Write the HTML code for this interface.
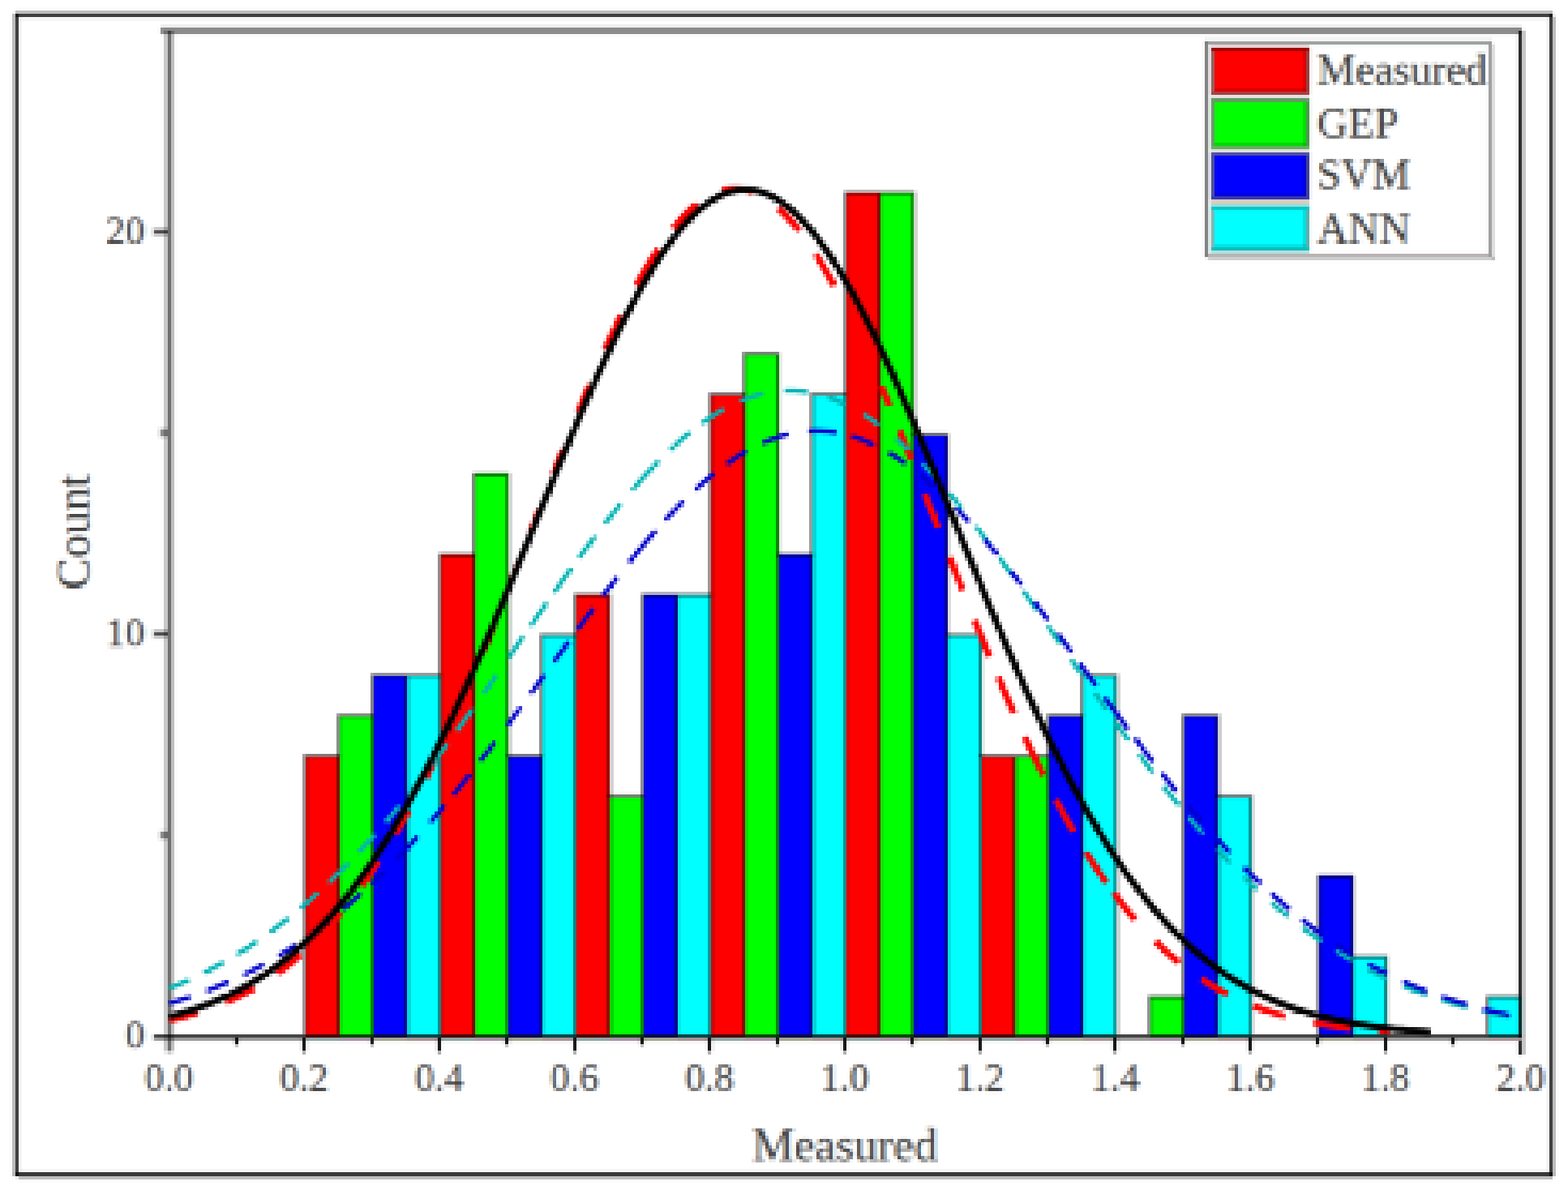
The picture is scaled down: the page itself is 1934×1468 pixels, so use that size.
<!DOCTYPE html>
<html lang="en"><head><meta charset="utf-8"><title>Histogram of Measured, GEP, SVM and ANN</title>
<style>
html,body{margin:0;padding:0;background:#fff;}
body{width:1934px;height:1468px;}
svg{display:block;}
text{font-family:"Liberation Serif","DejaVu Serif",serif;fill:#000000;fill-opacity:0.76;stroke:#000;stroke-width:0.3px;stroke-opacity:0.76;}
.tk{font-size:48.0px;}
.tt{font-size:58.0px;}
.lg{font-size:53.0px;}
</style></head><body>
<svg width="1934" height="1468" viewBox="0 0 1934 1468" role="img" aria-label="Histogram of Measured, GEP, SVM and ANN with fitted normal curves">
<defs><filter id="lowres" x="0" y="0" width="1934" height="1468" filterUnits="userSpaceOnUse" primitiveUnits="userSpaceOnUse" color-interpolation-filters="sRGB">
<feGaussianBlur in="SourceGraphic" stdDeviation="1.0" result="avg"/>
<feFlood x="21" y="17" width="1" height="25" flood-color="#000" flood-opacity="1" result="c0"/>
<feFlood x="25" y="17" width="1" height="25" flood-color="#000" flood-opacity="1" result="c1"/>
<feFlood x="29" y="17" width="1" height="25" flood-color="#000" flood-opacity="1" result="c2"/>
<feFlood x="34" y="17" width="1" height="25" flood-color="#000" flood-opacity="1" result="c3"/>
<feFlood x="38" y="17" width="1" height="25" flood-color="#000" flood-opacity="1" result="c4"/>
<feFlood x="42" y="17" width="1" height="25" flood-color="#000" flood-opacity="1" result="c5"/>
<feMerge x="19" y="17" width="25" height="25" result="ct"><feMergeNode in="c0"/><feMergeNode in="c1"/><feMergeNode in="c2"/><feMergeNode in="c3"/><feMergeNode in="c4"/><feMergeNode in="c5"/></feMerge>
<feTile in="ct" result="cols"/>
<feMerge x="19" y="17" width="25" height="25" result="c5t"><feMergeNode in="c2"/></feMerge>
<feTile in="c5t" result="cols5"/>
<feFlood x="19" y="19" width="25" height="1" flood-color="#000" flood-opacity="1" result="r0"/>
<feFlood x="19" y="23" width="25" height="1" flood-color="#000" flood-opacity="1" result="r1"/>
<feFlood x="19" y="28" width="25" height="1" flood-color="#000" flood-opacity="1" result="r2"/>
<feFlood x="19" y="32" width="25" height="1" flood-color="#000" flood-opacity="1" result="r3"/>
<feFlood x="19" y="36" width="25" height="1" flood-color="#000" flood-opacity="1" result="r4"/>
<feFlood x="19" y="40" width="25" height="1" flood-color="#000" flood-opacity="1" result="r5"/>
<feMerge x="19" y="17" width="25" height="25" result="rt"><feMergeNode in="r0"/><feMergeNode in="r1"/><feMergeNode in="r2"/><feMergeNode in="r3"/><feMergeNode in="r4"/><feMergeNode in="r5"/></feMerge>
<feTile in="rt" result="rows"/>
<feMerge x="19" y="17" width="25" height="25" result="r5t"><feMergeNode in="r1"/></feMerge>
<feTile in="r5t" result="rows5"/>
<feComposite in="cols" in2="rows" operator="in" result="dots"/>
<feComposite in="avg" in2="dots" operator="in" result="s"/>
<feComposite in="s" in2="cols5" operator="in" result="s5"/>
<feOffset in="s" dx="-2" dy="0" result="ha"/>
<feOffset in="s" dx="-1" dy="0" result="hb"/>
<feOffset in="s" dx="1" dy="0" result="hc"/>
<feOffset in="s5" dx="2" dy="0" result="hd"/>
<feMerge result="h"><feMergeNode in="ha"/><feMergeNode in="hb"/><feMergeNode in="s"/><feMergeNode in="hc"/><feMergeNode in="hd"/></feMerge>
<feComposite in="h" in2="rows5" operator="in" result="h5"/>
<feOffset in="h" dx="0" dy="-2" result="va"/>
<feOffset in="h" dx="0" dy="-1" result="vb"/>
<feOffset in="h" dx="0" dy="1" result="vc"/>
<feOffset in="h5" dx="0" dy="2" result="vd"/>
<feMerge result="blocks"><feMergeNode in="va"/><feMergeNode in="vb"/><feMergeNode in="h"/><feMergeNode in="vc"/><feMergeNode in="vd"/></feMerge>
<feMerge><feMergeNode in="avg"/><feMergeNode in="blocks"/></feMerge>
</filter>
<filter id="ctx" x="170" y="1303" width="1734" height="56" filterUnits="userSpaceOnUse" primitiveUnits="userSpaceOnUse" color-interpolation-filters="sRGB"><feFlood flood-color="#ffffff" flood-opacity="1" result="w"/><feGaussianBlur in="SourceGraphic" stdDeviation="0.9 0.3" result="sg"/><feMerge result="src"><feMergeNode in="w"/><feMergeNode in="sg"/></feMerge><feOffset in="sg" dx="1.4" dy="0" result="sr"/><feOffset in="sg" dx="-1.4" dy="0" result="sb"/><feMerge result="or"><feMergeNode in="w"/><feMergeNode in="sr"/></feMerge><feMerge result="ob"><feMergeNode in="w"/><feMergeNode in="sb"/></feMerge><feColorMatrix in="or" type="matrix" values="1 0 0 0 0  0 0 0 0 0  0 0 0 0 0  0 0 0 1 0" result="r"/><feColorMatrix in="src" type="matrix" values="0 0 0 0 0  0 1 0 0 0  0 0 0 0 0  0 0 0 1 0" result="g"/><feColorMatrix in="ob" type="matrix" values="0 0 0 0 0  0 0 0 0 0  0 0 1 0 0  0 0 0 1 0" result="b"/><feBlend in="r" in2="g" mode="screen" result="rg"/><feBlend in="rg" in2="b" mode="screen" result="fr"/><feComposite in="fr" in2="src" operator="arithmetic" k1="0" k2="0.6" k3="0.4" k4="0"/></filter>
<filter id="cty" x="124" y="255" width="60" height="1044" filterUnits="userSpaceOnUse" primitiveUnits="userSpaceOnUse" color-interpolation-filters="sRGB"><feFlood flood-color="#ffffff" flood-opacity="1" result="w"/><feGaussianBlur in="SourceGraphic" stdDeviation="0.9 0.3" result="sg"/><feMerge result="src"><feMergeNode in="w"/><feMergeNode in="sg"/></feMerge><feOffset in="sg" dx="1.4" dy="0" result="sr"/><feOffset in="sg" dx="-1.4" dy="0" result="sb"/><feMerge result="or"><feMergeNode in="w"/><feMergeNode in="sr"/></feMerge><feMerge result="ob"><feMergeNode in="w"/><feMergeNode in="sb"/></feMerge><feColorMatrix in="or" type="matrix" values="1 0 0 0 0  0 0 0 0 0  0 0 0 0 0  0 0 0 1 0" result="r"/><feColorMatrix in="src" type="matrix" values="0 0 0 0 0  0 1 0 0 0  0 0 0 0 0  0 0 0 1 0" result="g"/><feColorMatrix in="ob" type="matrix" values="0 0 0 0 0  0 0 0 0 0  0 0 1 0 0  0 0 0 1 0" result="b"/><feBlend in="r" in2="g" mode="screen" result="rg"/><feBlend in="rg" in2="b" mode="screen" result="fr"/><feComposite in="fr" in2="src" operator="arithmetic" k1="0" k2="0.6" k3="0.4" k4="0"/></filter>
<filter id="ctm" x="915" y="1378" width="256" height="64" filterUnits="userSpaceOnUse" primitiveUnits="userSpaceOnUse" color-interpolation-filters="sRGB"><feFlood flood-color="#ffffff" flood-opacity="1" result="w"/><feGaussianBlur in="SourceGraphic" stdDeviation="0.9 0.3" result="sg"/><feMerge result="src"><feMergeNode in="w"/><feMergeNode in="sg"/></feMerge><feOffset in="sg" dx="1.4" dy="0" result="sr"/><feOffset in="sg" dx="-1.4" dy="0" result="sb"/><feMerge result="or"><feMergeNode in="w"/><feMergeNode in="sr"/></feMerge><feMerge result="ob"><feMergeNode in="w"/><feMergeNode in="sb"/></feMerge><feColorMatrix in="or" type="matrix" values="1 0 0 0 0  0 0 0 0 0  0 0 0 0 0  0 0 0 1 0" result="r"/><feColorMatrix in="src" type="matrix" values="0 0 0 0 0  0 1 0 0 0  0 0 0 0 0  0 0 0 1 0" result="g"/><feColorMatrix in="ob" type="matrix" values="0 0 0 0 0  0 0 0 0 0  0 0 1 0 0  0 0 0 1 0" result="b"/><feBlend in="r" in2="g" mode="screen" result="rg"/><feBlend in="rg" in2="b" mode="screen" result="fr"/><feComposite in="fr" in2="src" operator="arithmetic" k1="0" k2="0.6" k3="0.4" k4="0"/></filter>
<filter id="ctc" x="58" y="570" width="64" height="172" filterUnits="userSpaceOnUse" primitiveUnits="userSpaceOnUse" color-interpolation-filters="sRGB"><feFlood flood-color="#ffffff" flood-opacity="1" result="w"/><feGaussianBlur in="SourceGraphic" stdDeviation="0.9 0.3" result="sg"/><feMerge result="src"><feMergeNode in="w"/><feMergeNode in="sg"/></feMerge><feOffset in="sg" dx="1.4" dy="0" result="sr"/><feOffset in="sg" dx="-1.4" dy="0" result="sb"/><feMerge result="or"><feMergeNode in="w"/><feMergeNode in="sr"/></feMerge><feMerge result="ob"><feMergeNode in="w"/><feMergeNode in="sb"/></feMerge><feColorMatrix in="or" type="matrix" values="1 0 0 0 0  0 0 0 0 0  0 0 0 0 0  0 0 0 1 0" result="r"/><feColorMatrix in="src" type="matrix" values="0 0 0 0 0  0 1 0 0 0  0 0 0 0 0  0 0 0 1 0" result="g"/><feColorMatrix in="ob" type="matrix" values="0 0 0 0 0  0 0 0 0 0  0 0 1 0 0  0 0 0 1 0" result="b"/><feBlend in="r" in2="g" mode="screen" result="rg"/><feBlend in="rg" in2="b" mode="screen" result="fr"/><feComposite in="fr" in2="src" operator="arithmetic" k1="0" k2="0.6" k3="0.4" k4="0"/></filter>
<filter id="ctl" x="1618" y="59" width="216" height="252" filterUnits="userSpaceOnUse" primitiveUnits="userSpaceOnUse" color-interpolation-filters="sRGB"><feFlood flood-color="#ffffff" flood-opacity="1" result="w"/><feGaussianBlur in="SourceGraphic" stdDeviation="0.9 0.3" result="sg"/><feMerge result="src"><feMergeNode in="w"/><feMergeNode in="sg"/></feMerge><feOffset in="sg" dx="1.4" dy="0" result="sr"/><feOffset in="sg" dx="-1.4" dy="0" result="sb"/><feMerge result="or"><feMergeNode in="w"/><feMergeNode in="sr"/></feMerge><feMerge result="ob"><feMergeNode in="w"/><feMergeNode in="sb"/></feMerge><feColorMatrix in="or" type="matrix" values="1 0 0 0 0  0 0 0 0 0  0 0 0 0 0  0 0 0 1 0" result="r"/><feColorMatrix in="src" type="matrix" values="0 0 0 0 0  0 1 0 0 0  0 0 0 0 0  0 0 0 1 0" result="g"/><feColorMatrix in="ob" type="matrix" values="0 0 0 0 0  0 0 0 0 0  0 0 1 0 0  0 0 0 1 0" result="b"/><feBlend in="r" in2="g" mode="screen" result="rg"/><feBlend in="rg" in2="b" mode="screen" result="fr"/><feComposite in="fr" in2="src" operator="arithmetic" k1="0" k2="0.6" k3="0.4" k4="0"/></filter></defs>
<g filter="url(#lowres)">
<g transform="translate(0.5 0.5)">
<rect x="-2" y="-2" width="1938" height="1472" fill="#ffffff"/>
<g id="outer-border">
<rect x="19" y="13" width="1896" height="4" fill="#000" fill-opacity="0.25"/>
<rect x="15" y="17" width="4" height="1434" fill="#000" fill-opacity="0.25"/>
<rect x="1915" y="21" width="4" height="1430" fill="#000" fill-opacity="0.25"/>
<rect x="23" y="1451" width="1892" height="4" fill="#000" fill-opacity="0.25"/>
<rect x="19" y="17" width="1896" height="4" fill="#000" fill-opacity="0.81"/>
<rect x="19" y="1446" width="1896" height="5" fill="#000" fill-opacity="0.81"/>
<rect x="19" y="17" width="4" height="1434" fill="#000" fill-opacity="0.81"/>
<rect x="1911" y="17" width="4" height="1434" fill="#000" fill-opacity="0.81"/>
</g>
<g id="bars">
<rect x="377" y="933.4" width="42" height="346.6" fill="#ff0000"/>
<rect x="419" y="883.4" width="42" height="396.6" fill="#00ff00"/>
<rect x="461" y="833.4" width="41" height="446.6" fill="#0000ff"/>
<rect x="502" y="833.4" width="42" height="446.6" fill="#00ffff"/>
<rect x="544" y="683.4" width="42" height="596.6" fill="#ff0000"/>
<rect x="586" y="583.4" width="41" height="696.6" fill="#00ff00"/>
<rect x="627" y="933.4" width="42" height="346.6" fill="#0000ff"/>
<rect x="669" y="783.4" width="42" height="496.6" fill="#00ffff"/>
<rect x="711" y="733.4" width="41" height="546.6" fill="#ff0000"/>
<rect x="752" y="983.4" width="42" height="296.6" fill="#00ff00"/>
<rect x="794" y="733.4" width="42" height="546.6" fill="#0000ff"/>
<rect x="836" y="733.4" width="41" height="546.6" fill="#00ffff"/>
<rect x="877" y="487.4" width="42" height="792.6" fill="#ff0000"/>
<rect x="919" y="437.4" width="42" height="842.6" fill="#00ff00"/>
<rect x="961" y="683.4" width="41" height="596.6" fill="#0000ff"/>
<rect x="1002" y="487.4" width="42" height="792.6" fill="#00ffff"/>
<rect x="1044" y="237.4" width="42" height="1042.6" fill="#ff0000"/>
<rect x="1086" y="237.4" width="41" height="1042.6" fill="#00ff00"/>
<rect x="1127" y="537.4" width="42" height="742.6" fill="#0000ff"/>
<rect x="1169" y="783.4" width="42" height="496.6" fill="#00ffff"/>
<rect x="1211" y="933.4" width="41" height="346.6" fill="#ff0000"/>
<rect x="1252" y="933.4" width="42" height="346.6" fill="#00ff00"/>
<rect x="1294" y="883.4" width="42" height="396.6" fill="#0000ff"/>
<rect x="1336" y="833.4" width="41" height="446.6" fill="#00ffff"/>
<rect x="1419" y="1229.4" width="42" height="50.6" fill="#00ff00"/>
<rect x="1461" y="883.4" width="41" height="396.6" fill="#0000ff"/>
<rect x="1502" y="983.4" width="42" height="296.6" fill="#00ffff"/>
<rect x="1627" y="1079.4" width="42" height="200.6" fill="#0000ff"/>
<rect x="1669" y="1179.4" width="42" height="100.6" fill="#00ffff"/>
<rect x="1836" y="1229.4" width="41" height="50.6" fill="#00ffff"/>
</g>
<g id="bar-outlines" fill="#000" fill-opacity="0.52">
<rect x="374.12" y="930.42" width="4.17" height="345.58"/>
<rect x="415.79" y="880.82" width="4.17" height="395.18"/>
<rect x="457.47" y="831.22" width="4.17" height="444.78"/>
<rect x="499.14" y="831.22" width="4.17" height="444.78"/>
<rect x="540.82" y="682.42" width="4.17" height="593.58"/>
<rect x="582.49" y="583.22" width="4.17" height="692.78"/>
<rect x="624.17" y="583.22" width="4.17" height="692.78"/>
<rect x="665.84" y="781.62" width="4.17" height="494.38"/>
<rect x="707.52" y="732.02" width="4.17" height="543.98"/>
<rect x="749.19" y="732.02" width="4.17" height="543.98"/>
<rect x="790.87" y="732.02" width="4.17" height="543.98"/>
<rect x="832.54" y="732.02" width="4.17" height="543.98"/>
<rect x="874.22" y="484.02" width="4.17" height="791.98"/>
<rect x="915.89" y="434.42" width="4.17" height="841.58"/>
<rect x="957.57" y="434.42" width="4.17" height="841.58"/>
<rect x="999.24" y="484.02" width="4.17" height="791.98"/>
<rect x="1040.92" y="236.02" width="4.17" height="1039.98"/>
<rect x="1082.59" y="236.02" width="4.17" height="1039.98"/>
<rect x="1124.27" y="236.02" width="4.17" height="1039.98"/>
<rect x="1165.94" y="533.62" width="4.17" height="742.38"/>
<rect x="1207.62" y="781.62" width="4.17" height="494.38"/>
<rect x="1249.29" y="930.42" width="4.17" height="345.58"/>
<rect x="1290.97" y="880.82" width="4.17" height="395.18"/>
<rect x="1332.64" y="831.22" width="4.17" height="444.78"/>
<rect x="1374.32" y="831.22" width="4.17" height="444.78"/>
<rect x="1415.99" y="1228.02" width="4.17" height="47.98"/>
<rect x="1457.67" y="880.82" width="4.17" height="395.18"/>
<rect x="1499.34" y="880.82" width="4.17" height="395.18"/>
<rect x="1541.02" y="980.02" width="4.17" height="295.98"/>
<rect x="1624.37" y="1079.22" width="4.17" height="196.78"/>
<rect x="1666.04" y="1079.22" width="4.17" height="196.78"/>
<rect x="1707.72" y="1178.42" width="4.17" height="97.58"/>
<rect x="1832.74" y="1228.02" width="4.17" height="47.98"/>
<rect x="378.28" y="930.42" width="41.68" height="4.17"/>
<rect x="419.96" y="880.82" width="41.68" height="4.17"/>
<rect x="461.63" y="831.22" width="37.51" height="4.17"/>
<rect x="503.31" y="831.22" width="41.68" height="4.17"/>
<rect x="544.98" y="682.42" width="41.67" height="4.17"/>
<rect x="586.66" y="583.22" width="37.51" height="4.17"/>
<rect x="624.17" y="930.42" width="45.84" height="4.17"/>
<rect x="670.01" y="781.62" width="41.68" height="4.17"/>
<rect x="711.68" y="732.02" width="37.51" height="4.17"/>
<rect x="749.19" y="980.02" width="45.84" height="4.17"/>
<rect x="795.03" y="732.02" width="37.51" height="4.17"/>
<rect x="836.71" y="732.02" width="41.68" height="4.17"/>
<rect x="878.38" y="484.02" width="41.67" height="4.17"/>
<rect x="920.06" y="434.42" width="37.51" height="4.17"/>
<rect x="957.57" y="682.42" width="45.84" height="4.17"/>
<rect x="1003.41" y="484.02" width="41.67" height="4.17"/>
<rect x="1045.08" y="236.02" width="37.51" height="4.17"/>
<rect x="1086.76" y="236.02" width="37.51" height="4.17"/>
<rect x="1124.27" y="533.62" width="41.67" height="4.17"/>
<rect x="1165.94" y="781.62" width="41.68" height="4.17"/>
<rect x="1207.62" y="930.42" width="41.67" height="4.17"/>
<rect x="1253.46" y="930.42" width="41.67" height="4.17"/>
<rect x="1295.13" y="880.82" width="41.68" height="4.17"/>
<rect x="1336.81" y="831.22" width="37.51" height="4.17"/>
<rect x="1420.16" y="1228.02" width="41.67" height="4.17"/>
<rect x="1461.83" y="880.82" width="37.51" height="4.17"/>
<rect x="1499.34" y="980.02" width="41.68" height="4.17"/>
<rect x="1628.53" y="1079.22" width="37.51" height="4.17"/>
<rect x="1666.04" y="1178.42" width="41.67" height="4.17"/>
<rect x="1836.91" y="1228.02" width="37.51" height="4.17"/>
</g>
<g id="frame">
<rect x="198" y="30" width="1679" height="4" fill="#000" fill-opacity="0.05"/>
<rect x="198" y="34" width="1679" height="8" fill="#000" fill-opacity="0.47"/>
<rect x="202" y="38" width="5" height="1259.5" fill="#000" fill-opacity="0.22"/>
<rect x="207" y="38" width="4" height="1259.5" fill="#000" fill-opacity="0.6"/>
<rect x="211" y="38" width="4" height="1259.5" fill="#000" fill-opacity="0.25"/>
<rect x="1873" y="38" width="4" height="1263" fill="#000" fill-opacity="0.89"/>
<rect x="1877" y="38" width="5" height="1263" fill="#000" fill-opacity="0.2"/>
<rect x="190" y="1276" width="1687" height="4" fill="#000" fill-opacity="0.78"/>
<rect x="190" y="1280" width="1687" height="4" fill="#000" fill-opacity="0.4"/>
<rect x="186" y="1276" width="4" height="8" fill="#000" fill-opacity="0.08"/>
<rect x="377" y="1280" width="42" height="4" fill="#92a9a9"/>
<rect x="419" y="1280" width="42" height="4" fill="#a992a9"/>
<rect x="461" y="1280" width="41" height="4" fill="#a9a992"/>
<rect x="502" y="1280" width="42" height="4" fill="#a99494"/>
<rect x="544" y="1280" width="42" height="4" fill="#92a9a9"/>
<rect x="586" y="1280" width="41" height="4" fill="#a992a9"/>
<rect x="627" y="1280" width="42" height="4" fill="#a9a992"/>
<rect x="669" y="1280" width="42" height="4" fill="#a99494"/>
<rect x="711" y="1280" width="41" height="4" fill="#92a9a9"/>
<rect x="752" y="1280" width="42" height="4" fill="#a992a9"/>
<rect x="794" y="1280" width="42" height="4" fill="#a9a992"/>
<rect x="836" y="1280" width="41" height="4" fill="#a99494"/>
<rect x="877" y="1280" width="42" height="4" fill="#92a9a9"/>
<rect x="919" y="1280" width="42" height="4" fill="#a992a9"/>
<rect x="961" y="1280" width="41" height="4" fill="#a9a992"/>
<rect x="1002" y="1280" width="42" height="4" fill="#a99494"/>
<rect x="1044" y="1280" width="42" height="4" fill="#92a9a9"/>
<rect x="1086" y="1280" width="41" height="4" fill="#a992a9"/>
<rect x="1127" y="1280" width="42" height="4" fill="#a9a992"/>
<rect x="1169" y="1280" width="42" height="4" fill="#a99494"/>
<rect x="1211" y="1280" width="41" height="4" fill="#92a9a9"/>
<rect x="1252" y="1280" width="42" height="4" fill="#a992a9"/>
<rect x="1294" y="1280" width="42" height="4" fill="#a9a992"/>
<rect x="1336" y="1280" width="41" height="4" fill="#a99494"/>
<rect x="1419" y="1280" width="42" height="4" fill="#a992a9"/>
<rect x="1461" y="1280" width="41" height="4" fill="#a9a992"/>
<rect x="1502" y="1280" width="42" height="4" fill="#a99494"/>
<rect x="1627" y="1280" width="42" height="4" fill="#a9a992"/>
<rect x="1669" y="1280" width="42" height="4" fill="#a99494"/>
<rect x="1836" y="1280" width="41" height="4" fill="#a99494"/>
</g>
<g id="ticks" fill="#000">
<rect x="289.57" y="1280" width="4.17" height="9.2" fill-opacity="0.97"/>
<rect x="372.92" y="1280" width="4.17" height="17.5" fill-opacity="0.97"/>
<rect x="456.27" y="1280" width="4.17" height="9.2" fill-opacity="0.97"/>
<rect x="539.62" y="1280" width="4.17" height="17.5" fill-opacity="0.97"/>
<rect x="622.97" y="1280" width="4.17" height="9.2" fill-opacity="0.97"/>
<rect x="706.32" y="1280" width="4.17" height="17.5" fill-opacity="0.97"/>
<rect x="789.67" y="1280" width="4.17" height="9.2" fill-opacity="0.97"/>
<rect x="873.02" y="1280" width="4.17" height="17.5" fill-opacity="0.97"/>
<rect x="956.37" y="1280" width="4.17" height="9.2" fill-opacity="0.97"/>
<rect x="1039.72" y="1280" width="4.17" height="17.5" fill-opacity="0.97"/>
<rect x="1123.07" y="1280" width="4.17" height="9.2" fill-opacity="0.97"/>
<rect x="1206.42" y="1280" width="4.17" height="17.5" fill-opacity="0.97"/>
<rect x="1289.77" y="1280" width="4.17" height="9.2" fill-opacity="0.97"/>
<rect x="1373.12" y="1280" width="4.17" height="17.5" fill-opacity="0.97"/>
<rect x="1456.47" y="1280" width="4.17" height="9.2" fill-opacity="0.97"/>
<rect x="1539.82" y="1280" width="4.17" height="17.5" fill-opacity="0.97"/>
<rect x="1623.17" y="1280" width="4.17" height="9.2" fill-opacity="0.97"/>
<rect x="1706.52" y="1280" width="4.17" height="17.5" fill-opacity="0.97"/>
<rect x="1789.87" y="1280" width="4.17" height="9.2" fill-opacity="0.97"/>
<rect x="198" y="1028" width="9" height="4" fill-opacity="0.66"/>
<rect x="198" y="1024" width="9" height="12" fill-opacity="0.2"/>
<rect x="194" y="1024" width="4" height="12" fill-opacity="0.08"/>
<rect x="190" y="780" width="17" height="4" fill-opacity="0.66"/>
<rect x="190" y="776" width="17" height="12" fill-opacity="0.2"/>
<rect x="186" y="776" width="4" height="12" fill-opacity="0.08"/>
<rect x="198" y="532" width="9" height="4" fill-opacity="0.66"/>
<rect x="198" y="528" width="9" height="12" fill-opacity="0.2"/>
<rect x="194" y="528" width="4" height="12" fill-opacity="0.08"/>
<rect x="190" y="284" width="17" height="4" fill-opacity="0.66"/>
<rect x="190" y="280" width="17" height="12" fill-opacity="0.2"/>
<rect x="186" y="280" width="4" height="12" fill-opacity="0.08"/>
</g>
<g id="curves" fill="none" stroke-linecap="butt" stroke-linejoin="round">
<path d="M208.8,1258.4 L211.7,1257.7 L214.6,1257.0 L217.6,1256.3 L220.5,1255.6 L223.4,1254.9 L226.3,1254.1 L229.2,1253.3 L232.1,1252.5 L235.0,1251.7 L238.0,1250.8 L240.9,1250.0 L243.8,1249.1 M278.5,1236.3 L281.5,1235.0 L284.4,1233.7 L287.3,1232.4 L290.2,1231.0 L293.1,1229.6 L296.1,1228.2 L299.0,1226.7 L301.9,1225.2 L304.8,1223.6 L307.8,1222.1 L310.7,1220.5 L313.6,1218.8 M342.0,1200.6 L344.9,1198.5 L347.8,1196.3 L350.7,1194.1 L353.6,1191.9 L356.5,1189.6 L359.5,1187.3 L362.4,1184.9 L365.3,1182.5 L368.2,1180.0 L371.1,1177.5 M400.2,1149.2 L403.1,1146.1 L406.0,1142.9 L408.9,1139.7 L411.8,1136.4 L414.7,1133.1 L417.6,1129.7 L420.4,1126.3 M445.9,1093.2 L448.9,1089.0 L451.9,1084.8 L454.9,1080.5 L457.9,1076.1 L460.9,1071.6 L463.9,1067.1 L466.9,1062.5 M487.5,1029.0 L490.2,1024.3 L493.0,1019.5 L495.7,1014.7 L498.5,1009.8 L501.2,1004.9 L504.0,999.9 M524.8,960.1 L527.6,954.7 L530.3,949.2 L533.0,943.7 L535.8,938.1 L538.5,932.4 L541.2,926.7 M560.2,885.8 L562.9,879.8 L565.6,873.6 L568.4,867.5 L571.1,861.3 L573.8,855.1 M595.2,804.6 L598.1,797.8 L600.9,790.8 L603.8,783.9 L606.6,776.9 L609.5,769.9 M630.4,717.5 L632.7,711.8 L634.9,706.1 L637.2,700.4 L639.5,694.6 M654.2,656.9 L657.0,649.8 L659.8,642.8 L662.5,635.7 L665.3,628.7 M682.2,585.4 L684.6,579.3 L687.0,573.2 L689.5,567.1 L691.9,561.1 L694.3,555.0 M713.2,508.2 L716.1,501.3 L718.9,494.5 L721.7,487.7 L724.6,480.9 L727.4,474.2 M746.2,431.2 L749.0,425.0 L751.8,418.9 L754.6,412.8 L757.4,406.8 L760.2,400.9 L763.0,395.0 L765.8,389.3 M784.8,352.4 L787.8,346.9 L790.8,341.5 L793.8,336.3 L796.8,331.1 L799.8,326.1 L802.8,321.1 L805.8,316.3 L808.8,311.6 L811.8,307.1 M830.1,281.9 L833.1,278.2 L836.0,274.7 L839.0,271.4 L842.0,268.1 L845.0,265.0 L847.9,262.0 L850.9,259.2 L853.9,256.5 L856.9,253.9 L859.8,251.5 M890.9,235.1 L893.9,234.3 L896.8,233.8 L899.8,233.3 L902.7,233.1 L905.6,232.9 L908.6,233.0 L911.5,233.1 L914.4,233.4 L917.4,233.9 L920.3,234.5 L923.2,235.2 L926.2,236.1 L929.1,237.2 M960.1,256.9 L962.9,259.5 L965.7,262.2 L968.6,265.0 L971.4,268.0 L974.2,271.0 L977.1,274.2 L979.9,277.6 L982.8,281.0 L985.6,284.6 M1006.0,313.6 L1008.9,318.1 L1011.7,322.7 L1014.6,327.4 L1017.4,332.2 L1020.2,337.1 L1023.1,342.2 L1025.9,347.3 L1028.8,352.5 M1048.2,390.2 L1050.8,395.6 L1053.4,401.0 L1056.0,406.5 L1058.6,412.1 L1061.2,417.7 L1063.8,423.4 M1087.0,476.3 L1089.5,482.2 L1092.0,488.2 L1094.6,494.2 L1097.1,500.3 M1109.7,531.2 L1112.6,538.2 L1115.4,545.3 L1118.2,552.3 L1121.0,559.4 L1123.9,566.6 M1140.7,609.4 L1143.4,616.3 L1146.1,623.2 L1148.8,630.1 L1151.6,637.0 L1154.3,644.0 L1157.0,650.9 M1171.2,687.4 L1173.9,694.2 L1176.6,701.1 L1179.3,707.9 L1182.0,714.7 L1184.7,721.5 L1187.4,728.3 M1202.2,765.3 L1204.8,771.8 L1207.4,778.2 L1210.1,784.6 L1212.7,790.9 L1215.3,797.3 L1217.9,803.6 L1220.5,809.8 M1231.2,835.2 L1234.0,841.7 L1236.7,848.1 L1239.5,854.5 L1242.2,860.8 L1245.0,867.0 L1247.8,873.3 L1250.5,879.5 M1264.2,909.4 L1267.0,915.5 L1269.8,921.5 L1272.7,927.5 L1275.5,933.4 L1278.4,939.2 L1281.2,945.0 L1284.0,950.8 L1286.9,956.5 M1302.4,986.6 L1305.1,991.7 L1307.8,996.7 L1310.6,1001.7 L1313.3,1006.6 L1316.0,1011.5 L1318.7,1016.3 L1321.4,1021.0 L1324.1,1025.7 M1339.6,1051.4 L1342.4,1055.8 L1345.2,1060.2 L1347.9,1064.5 L1350.7,1068.7 L1353.5,1072.9 L1356.2,1077.0 L1359.0,1081.0 L1361.8,1085.0 L1364.5,1088.9 M1373.6,1101.5 L1376.6,1105.4 L1379.5,1109.2 L1382.4,1113.0 L1385.3,1116.7 L1388.2,1120.3 L1391.1,1123.9 L1394.1,1127.4 L1397.0,1130.9 L1399.9,1134.3 M1425.1,1161.3 L1428.0,1164.1 L1430.9,1166.9 L1433.8,1169.6 L1436.7,1172.3 L1439.5,1174.9 L1442.4,1177.4 L1445.3,1180.0 L1448.2,1182.4 L1451.1,1184.8 L1454.0,1187.2 M1481.6,1207.5 L1484.6,1209.4 L1487.6,1211.3 L1490.5,1213.2 L1493.5,1215.0 L1496.5,1216.8 L1499.5,1218.5 L1502.4,1220.2 L1505.4,1221.9 L1508.4,1223.5 L1511.3,1225.0 L1514.3,1226.6 M1546.3,1240.8 L1549.3,1242.0 L1552.2,1243.1 L1555.2,1244.2 L1558.2,1245.2 L1561.2,1246.3 L1564.2,1247.3 L1567.2,1248.2 L1570.2,1249.2 L1573.1,1250.1 L1576.1,1251.0 L1579.1,1251.9 L1582.1,1252.7 L1585.1,1253.5 M1620.3,1261.6 L1623.1,1262.1 L1626.0,1262.6 L1628.9,1263.2 L1631.7,1263.6 L1634.6,1264.1 L1637.5,1264.6 L1640.3,1265.0 L1643.2,1265.5 L1646.1,1265.9 L1648.9,1266.3 L1651.8,1266.7 L1654.7,1267.1 L1657.5,1267.5 L1660.4,1267.8 L1663.3,1268.2 L1666.1,1268.5 M1700.2,1271.9 L1702.9,1272.1 L1705.6,1272.3 L1708.4,1272.5 L1711.1,1272.7 L1713.8,1272.9" stroke="#ff0000" stroke-width="8.0"/>
<path d="M208.9,1219.1 L211.6,1218.0 L214.4,1216.8 L217.1,1215.7 L219.8,1214.6 L222.5,1213.4 L225.2,1212.2 L228.0,1211.0 L230.7,1209.8 L233.4,1208.5 M251.4,1199.9 L254.1,1198.5 L256.8,1197.2 L259.5,1195.8 L262.2,1194.3 L264.9,1192.9 L267.6,1191.4 L270.3,1190.0 L273.0,1188.5 L275.7,1187.0 M291.9,1177.4 L294.6,1175.7 L297.4,1174.0 L300.2,1172.2 L303.0,1170.5 L305.8,1168.7 L308.6,1166.8 L311.4,1165.0 L314.2,1163.1 L317.0,1161.2 M333.4,1149.6 L336.1,1147.6 L338.8,1145.6 L341.5,1143.5 L344.3,1141.5 L347.0,1139.4 L349.7,1137.2 L352.4,1135.1 L355.2,1132.9 M370.7,1120.2 L373.4,1117.9 L376.1,1115.5 L378.8,1113.2 L381.5,1110.8 L384.2,1108.4 L386.9,1106.0 L389.6,1103.6 L392.3,1101.1 M404.8,1089.4 L407.6,1086.8 L410.3,1084.1 L413.0,1081.4 L415.8,1078.8 L418.5,1076.0 L421.2,1073.3 L424.0,1070.5 L426.7,1067.8 L429.4,1064.9 M442.2,1051.5 L445.1,1048.4 L448.0,1045.2 L450.9,1042.1 L453.8,1038.9 L456.7,1035.7 L459.6,1032.4 L462.5,1029.2 M475.3,1014.4 L478.1,1011.1 L481.0,1007.7 L483.8,1004.3 L486.7,1000.9 L489.6,997.4 L492.4,993.9 M504.3,979.3 L507.0,975.9 L509.8,972.4 L512.5,969.0 L515.2,965.5 L518.0,962.0 L520.7,958.5 M532.3,943.4 L535.0,939.8 L537.8,936.2 L540.5,932.6 L543.2,928.9 L545.9,925.3 L548.6,921.6 L551.4,917.9 M563.3,901.6 L566.2,897.7 L569.1,893.7 L572.0,889.7 L574.8,885.7 L577.7,881.7 L580.6,877.7 L583.5,873.6 M596.4,855.3 L599.1,851.5 L601.7,847.7 L604.4,844.0 L607.0,840.2 L609.7,836.4 L612.3,832.6 M627.5,810.9 L630.5,806.6 L633.5,802.3 L636.4,797.9 L639.4,793.6 L642.4,789.3 L645.4,785.0 M654.4,772.2 L657.2,768.0 L660.1,763.9 L663.0,759.8 L665.8,755.7 L668.7,751.6 L671.6,747.5 L674.5,743.4 M683.3,730.8 L686.0,727.0 L688.6,723.3 L691.3,719.6 L693.9,715.9 L696.5,712.2 L699.2,708.5 L701.8,704.9 L704.5,701.2 M714.3,687.7 L717.2,683.8 L720.0,680.0 L722.8,676.2 L725.7,672.4 L728.5,668.6 L731.4,664.8 L734.2,661.1 M746.1,645.6 L748.8,642.1 L751.6,638.7 L754.3,635.2 L757.0,631.8 L759.8,628.4 L762.5,625.0 L765.2,621.7 M779.5,604.8 L782.2,601.6 L785.0,598.4 L787.7,595.3 L790.5,592.2 L793.3,589.1 L796.0,586.0 L798.8,583.0 L801.6,580.1 L804.3,577.1 L807.1,574.2 L809.9,571.4 L812.6,568.5 M826.6,554.8 L829.3,552.3 L832.0,549.8 L834.7,547.3 L837.4,544.9 L840.1,542.5 L842.8,540.2 L845.5,537.9 L848.2,535.7 L850.9,533.5 M866.0,521.8 L869.0,519.7 L872.0,517.6 L875.0,515.6 L877.9,513.6 L880.9,511.7 L883.9,509.8 L886.9,508.0 L889.9,506.3 L892.9,504.6 M912.9,494.8 L915.8,493.6 L918.6,492.5 L921.5,491.4 L924.3,490.4 L927.2,489.5 L930.0,488.6 L932.9,487.7 L935.7,486.9 L938.6,486.2 L941.4,485.5 M967.6,482.0 L970.5,482.0 L973.3,481.9 L976.2,481.9 L979.1,482.0 L982.0,482.2 L984.9,482.4 L987.8,482.6 L990.7,483.0 L993.5,483.4 L996.4,483.8 M1021.2,490.0 L1023.9,490.9 L1026.6,491.9 L1029.3,492.9 L1031.9,494.0 L1034.6,495.1 L1037.3,496.2 L1040.0,497.5 L1042.7,498.7 M1065.0,511.1 L1067.7,512.8 L1070.4,514.5 L1073.0,516.3 L1075.7,518.2 L1078.4,520.0 L1081.1,522.0 L1083.8,523.9 M1104.5,540.5 L1107.2,542.9 L1109.9,545.3 L1112.7,547.7 L1115.4,550.2 L1118.1,552.8 L1120.9,555.3 M1137.7,572.0 L1140.4,574.8 L1143.1,577.7 L1145.8,580.5 L1148.5,583.4 L1151.2,586.4 L1153.9,589.4 M1170.9,608.8 L1173.5,611.9 L1176.2,615.1 L1178.9,618.3 L1181.6,621.6 L1184.2,624.8 L1186.9,628.1 M1203.3,648.8 L1205.9,652.2 L1208.5,655.5 L1211.0,658.9 L1213.6,662.3 L1216.2,665.7 L1218.8,669.1 L1221.4,672.6 M1232.3,687.3 L1235.0,691.0 L1237.6,694.6 L1240.3,698.3 L1242.9,701.9 L1245.6,705.6 L1248.3,709.3 M1262.3,729.0 L1265.2,733.0 L1268.0,737.0 L1270.8,741.0 L1273.6,745.0 L1276.4,749.1 L1279.2,753.1 M1292.4,771.9 L1295.0,775.7 L1297.7,779.5 L1300.3,783.3 L1302.9,787.1 L1305.6,790.9 L1308.2,794.8 M1321.4,813.6 L1324.1,817.6 L1326.9,821.6 L1329.6,825.5 L1332.4,829.5 L1335.1,833.4 M1350.2,855.0 L1353.0,858.9 L1355.8,862.8 L1358.5,866.7 L1361.3,870.6 L1364.1,874.5 M1377.1,892.7 L1380.1,896.9 L1383.1,901.0 L1386.1,905.1 L1389.1,909.2 L1392.1,913.2 M1404.8,930.4 L1407.7,934.3 L1410.6,938.1 L1413.5,941.9 L1416.3,945.7 L1419.2,949.4 L1422.1,953.2 M1435.0,969.7 L1437.7,973.2 L1440.5,976.7 L1443.2,980.1 L1446.0,983.5 L1448.7,986.9 L1451.5,990.3 L1454.2,993.6 M1466.1,1007.8 L1468.6,1010.9 L1471.2,1013.9 L1473.8,1017.0 L1476.4,1020.0 L1479.0,1022.9 L1481.6,1025.9 L1484.2,1028.8 M1501.2,1047.7 L1503.9,1050.6 L1506.6,1053.5 L1509.3,1056.3 L1511.9,1059.2 L1514.6,1062.0 L1517.3,1064.8 M1534.2,1081.7 L1536.9,1084.4 L1539.6,1087.0 L1542.3,1089.6 L1545.0,1092.2 L1547.8,1094.8 L1550.5,1097.3 M1568.6,1113.6 L1571.5,1116.1 L1574.4,1118.6 L1577.3,1121.1 L1580.2,1123.5 L1583.1,1125.9 L1586.1,1128.3 L1589.0,1130.7 M1605.8,1143.9 L1608.8,1146.1 L1611.8,1148.3 L1614.8,1150.5 L1617.8,1152.7 L1620.8,1154.8 L1623.8,1157.0 L1626.8,1159.0 L1629.8,1161.1 M1647.6,1172.8 L1650.4,1174.6 L1653.3,1176.4 L1656.2,1178.1 L1659.0,1179.8 L1661.9,1181.5 L1664.7,1183.2 L1667.6,1184.9 M1687.8,1196.0 L1690.7,1197.5 L1693.6,1199.0 L1696.6,1200.4 L1699.5,1201.9 L1702.4,1203.3 L1705.3,1204.7 L1708.3,1206.1 L1711.2,1207.5 M1730.0,1215.8 L1733.0,1217.0 L1736.0,1218.3 L1739.0,1219.5 L1742.0,1220.7 L1745.0,1221.8 L1748.0,1223.0 L1751.0,1224.1 L1754.0,1225.2 L1757.0,1226.3 L1759.9,1227.4 M1778.5,1233.6 L1781.3,1234.5 L1784.2,1235.4 L1787.0,1236.2 L1789.8,1237.1 L1792.6,1237.9 L1795.5,1238.7 L1798.3,1239.5 L1801.1,1240.3 L1803.9,1241.1 L1806.8,1241.9 L1809.6,1242.6 M1829.1,1247.5 L1831.9,1248.1 L1834.6,1248.7 L1837.4,1249.3 L1840.2,1250.0 L1843.0,1250.6 L1845.8,1251.1 L1848.6,1251.7 L1851.4,1252.3 L1854.1,1252.8 L1856.9,1253.4 L1859.7,1253.9 L1862.5,1254.4" stroke="#00b4b4" stroke-width="5.5"/>
<path d="M208.8,1237.9 L211.6,1237.0 L214.5,1236.1 L217.4,1235.2 L220.3,1234.3 L223.2,1233.4 L226.0,1232.5 L228.9,1231.6 L231.8,1230.6 L234.7,1229.6 M254.4,1222.5 L257.2,1221.4 L259.9,1220.3 L262.7,1219.2 L265.4,1218.1 L268.2,1216.9 L271.0,1215.8 L273.7,1214.6 L276.5,1213.4 L279.3,1212.2 L282.0,1211.0 M300.0,1202.6 L302.8,1201.2 L305.7,1199.8 L308.5,1198.4 L311.3,1196.9 L314.1,1195.5 L316.9,1194.0 L319.8,1192.5 L322.6,1190.9 L325.4,1189.4 M343.6,1178.9 L346.2,1177.3 L348.8,1175.7 L351.4,1174.0 L354.1,1172.4 L356.7,1170.7 L359.3,1169.0 L362.0,1167.3 L364.6,1165.6 M385.1,1151.4 L388.0,1149.2 L391.0,1147.0 L393.9,1144.8 L396.9,1142.6 L399.9,1140.3 L402.8,1138.1 L405.8,1135.8 M423.4,1121.5 L426.1,1119.2 L428.8,1116.9 L431.5,1114.6 L434.2,1112.2 L436.9,1109.9 L439.6,1107.5 L442.3,1105.1 L445.0,1102.6 M458.1,1090.5 L460.9,1087.9 L463.7,1085.2 L466.5,1082.5 L469.3,1079.8 L472.1,1077.1 L474.8,1074.3 M488.7,1060.2 L491.6,1057.2 L494.6,1054.1 L497.5,1051.0 L500.5,1047.9 L503.4,1044.7 L506.3,1041.5 L509.3,1038.3 L512.2,1035.1 L515.2,1031.8 M530.0,1015.0 L532.6,1012.0 L535.2,1009.0 L537.8,1005.9 L540.4,1002.9 L543.0,999.8 L545.6,996.7 L548.2,993.6 M559.2,980.4 L562.1,976.9 L564.9,973.3 L567.8,969.8 L570.7,966.2 L573.6,962.6 L576.4,959.0 L579.3,955.3 M592.3,938.7 L594.9,935.4 L597.5,932.0 L600.1,928.6 L602.6,925.3 L605.2,921.9 L607.8,918.5 L610.4,915.1 M625.3,895.2 L628.2,891.4 L631.0,887.6 L633.8,883.7 L636.7,879.9 L639.5,876.1 L642.4,872.2 M654.3,855.9 L657.2,852.0 L660.0,848.1 L662.8,844.3 L665.7,840.4 L668.5,836.5 L671.4,832.6 M683.3,816.2 L685.9,812.6 L688.5,809.1 L691.1,805.6 L693.6,802.1 L696.2,798.5 L698.8,795.0 L701.4,791.5 M712.2,776.7 L715.1,772.8 L718.0,768.9 L720.9,765.1 L723.7,761.2 L726.6,757.3 L729.5,753.5 L732.4,749.6 M743.3,735.2 L746.3,731.3 L749.3,727.4 L752.3,723.5 L755.3,719.6 L758.3,715.7 L761.3,711.9 M775.6,693.9 L778.4,690.5 L781.1,687.1 L783.9,683.7 L786.6,680.4 L789.4,677.1 L792.2,673.8 L794.9,670.5 L797.7,667.2 L800.5,664.0 L803.2,660.8 L806.0,657.6 L808.8,654.5 M820.5,641.4 L823.3,638.4 L826.1,635.4 L828.9,632.4 L831.7,629.5 L834.5,626.6 L837.3,623.7 L840.1,620.9 L842.9,618.1 M857.6,604.0 L860.5,601.4 L863.3,598.8 L866.1,596.3 L868.9,593.9 L871.8,591.4 L874.6,589.0 L877.4,586.7 L880.3,584.4 M896.3,572.2 L899.0,570.3 L901.7,568.4 L904.5,566.5 L907.2,564.7 L909.9,563.0 L912.7,561.3 L915.4,559.6 L918.2,558.0 L920.9,556.4 M941.0,546.2 L943.8,545.0 L946.7,543.8 L949.6,542.7 L952.4,541.6 L955.3,540.6 L958.1,539.6 L961.0,538.7 L963.8,537.8 L966.7,537.0 L969.6,536.3 L972.4,535.6 M997.1,531.8 L999.9,531.7 L1002.7,531.6 L1005.5,531.5 L1008.3,531.5 L1011.1,531.6 L1013.9,531.7 L1016.7,531.9 L1019.5,532.1 L1022.3,532.3 L1025.1,532.7 L1027.9,533.0 L1030.7,533.5 M1050.1,537.9 L1052.8,538.8 L1055.6,539.6 L1058.4,540.6 L1061.2,541.6 L1064.0,542.6 L1066.8,543.7 L1069.5,544.9 L1072.3,546.1 L1075.1,547.3 L1077.9,548.6 M1095.9,558.3 L1098.6,559.8 L1101.2,561.4 L1103.8,563.1 L1106.4,564.8 L1109.1,566.5 L1111.7,568.3 L1114.3,570.1 L1116.9,571.9 M1135.4,586.1 L1138.2,588.4 L1140.9,590.7 L1143.7,593.0 L1146.4,595.4 L1149.1,597.8 L1151.9,600.3 M1179.0,626.5 L1181.7,629.3 L1184.4,632.1 L1187.1,635.0 L1189.8,637.9 L1192.6,640.9 L1195.3,643.8 M1214.3,665.3 L1216.8,668.3 L1219.4,671.4 L1222.0,674.4 L1224.6,677.5 L1227.1,680.6 L1229.7,683.8 M1246.8,704.9 L1249.4,708.2 L1252.0,711.5 L1254.5,714.8 L1257.1,718.1 L1259.7,721.4 M1275.7,742.4 L1278.5,746.1 L1281.4,749.9 L1284.2,753.6 L1287.0,757.4 L1289.8,761.2 L1292.7,765.0 M1304.7,781.3 L1307.6,785.1 L1310.4,789.0 L1313.2,792.8 L1316.0,796.7 L1318.8,800.6 L1321.7,804.4 M1331.6,818.1 L1334.5,822.0 L1337.4,825.9 L1340.2,829.8 L1343.1,833.8 L1345.9,837.7 L1348.8,841.6 L1351.7,845.5 M1362.6,860.5 L1365.5,864.4 L1368.3,868.2 L1371.1,872.1 L1374.0,875.9 L1376.8,879.8 L1379.6,883.6 L1382.5,887.4 L1385.3,891.2 L1388.1,895.0 L1391.0,898.8 M1399.8,910.6 L1402.6,914.3 L1405.4,918.0 L1408.2,921.6 L1411.0,925.3 L1413.7,928.9 L1416.5,932.5 L1419.3,936.2 L1422.1,939.8 M1433.0,953.7 L1435.6,957.0 L1438.1,960.2 L1440.7,963.4 L1443.3,966.7 L1445.9,969.9 L1448.4,973.1 L1451.0,976.2 M1466.1,994.5 L1468.7,997.7 L1471.4,1000.9 L1474.1,1004.0 L1476.8,1007.2 L1479.5,1010.3 L1482.2,1013.4 M1499.0,1032.5 L1501.6,1035.4 L1504.2,1038.2 L1506.9,1041.1 L1509.5,1043.9 L1512.1,1046.7 L1514.7,1049.5 L1517.3,1052.3 M1534.2,1069.7 L1537.1,1072.7 L1540.0,1075.6 L1543.0,1078.5 L1545.9,1081.3 L1548.8,1084.2 L1551.7,1087.0 L1554.7,1089.8 M1568.2,1102.3 L1571.0,1104.8 L1573.9,1107.4 L1576.7,1109.9 L1579.5,1112.3 L1582.4,1114.8 L1585.2,1117.2 L1588.0,1119.6 L1590.8,1122.0 M1605.3,1133.8 L1608.1,1136.0 L1610.9,1138.1 L1613.6,1140.3 L1616.4,1142.4 L1619.2,1144.5 L1621.9,1146.5 L1624.7,1148.6 L1627.5,1150.6 L1630.2,1152.6 M1647.6,1164.6 L1650.5,1166.5 L1653.3,1168.4 L1656.2,1170.2 L1659.0,1172.0 L1661.8,1173.8 L1664.7,1175.6 L1667.5,1177.4 M1687.8,1189.2 L1690.7,1190.8 L1693.6,1192.4 L1696.6,1193.9 L1699.5,1195.5 L1702.4,1197.0 L1705.3,1198.5 L1708.2,1200.0 L1711.2,1201.4 M1730.1,1210.3 L1733.1,1211.7 L1736.0,1213.0 L1739.0,1214.3 L1742.0,1215.5 L1745.0,1216.8 L1748.0,1218.0 L1751.0,1219.2 L1753.9,1220.4 L1756.9,1221.6 L1759.9,1222.7 M1778.5,1229.5 L1781.4,1230.4 L1784.2,1231.4 L1787.0,1232.3 L1789.8,1233.2 L1792.6,1234.1 L1795.5,1235.0 L1798.3,1235.9 L1801.1,1236.7 L1803.9,1237.6 L1806.7,1238.4 L1809.5,1239.2 M1829.1,1244.5 L1831.9,1245.2 L1834.7,1245.9 L1837.4,1246.5 L1840.2,1247.2 L1843.0,1247.9 L1845.8,1248.5 L1848.6,1249.1 L1851.3,1249.7 L1854.1,1250.3 L1856.9,1250.9 L1859.7,1251.5 L1862.5,1252.1" stroke="#0000cc" stroke-width="5.5"/>
<path d="M208.3,1254.0 L212.3,1253.0 L216.3,1251.9 L220.3,1250.8 L224.3,1249.6 L228.3,1248.4 L232.2,1247.2 L236.2,1245.9 L240.2,1244.6 L244.2,1243.2 L248.2,1241.8 L252.2,1240.3 L256.2,1238.8 L260.2,1237.2 L264.2,1235.6 L268.2,1233.9 L272.1,1232.2 L276.1,1230.4 L280.1,1228.5 L284.1,1226.6 L288.1,1224.6 L292.1,1222.6 L296.1,1220.5 L300.1,1218.3 L304.1,1216.1 L308.1,1213.8 L312.0,1211.4 L316.0,1209.0 L320.0,1206.5 L324.0,1203.9 L328.0,1201.2 L332.0,1198.5 L336.0,1195.6 L340.0,1192.7 L344.0,1189.8 L348.0,1186.7 L351.9,1183.5 L355.9,1180.3 L359.9,1177.0 L363.9,1173.6 L367.9,1170.1 L371.9,1166.5 L375.9,1162.8 L379.9,1159.0 L383.9,1155.2 L387.9,1151.2 L391.9,1147.1 L395.8,1143.0 L399.8,1138.7 L403.8,1134.3 L407.8,1129.9 L411.8,1125.3 L415.8,1120.6 L419.8,1115.9 L423.8,1111.0 L427.8,1106.0 L431.8,1100.9 L435.7,1095.7 L439.7,1090.4 L443.7,1085.0 L447.7,1079.5 L451.7,1073.8 L455.7,1068.1 L459.7,1062.3 L463.7,1056.3 L467.7,1050.2 L471.7,1044.0 L475.6,1037.7 L479.6,1031.3 L483.6,1024.8 L487.6,1018.2 L491.6,1011.5 L495.6,1004.6 L499.6,997.7 L503.6,990.6 L507.6,983.4 L511.6,976.1 L515.5,968.8 L519.5,961.3 L523.5,953.7 L527.5,946.0 L531.5,938.2 L535.5,930.3 L539.5,922.3 L543.5,914.2 L547.5,906.0 L551.5,897.7 L555.5,889.3 L559.4,880.9 L563.4,872.3 L567.4,863.6 L571.4,854.9 L575.4,846.1 L579.4,837.2 L583.4,828.3 L587.4,819.2 L591.4,810.1 L595.4,801.0 L599.3,791.7 L603.3,782.4 L607.3,773.1 L611.3,763.6 L615.3,754.2 L619.3,744.7 L623.3,735.1 L627.3,725.5 L631.3,715.9 L635.3,706.2 L639.2,696.6 L643.2,686.8 L647.2,677.1 L651.2,667.4 L655.2,657.6 L659.2,647.9 L663.2,638.1 L667.2,628.3 L671.2,618.6 L675.2,608.8 L679.2,599.1 L683.1,589.4 L687.1,579.7 L691.1,570.1 L695.1,560.5 L699.1,550.9 L703.1,541.4 L707.1,532.0 L711.1,522.6 L715.1,513.2 L719.1,504.0 L723.0,494.8 L727.0,485.6 L731.0,476.6 L735.0,467.7 L739.0,458.8 L743.0,450.1 L747.0,441.4 L751.0,432.9 L755.0,424.5 L759.0,416.2 L762.9,408.0 L766.9,400.0 L770.9,392.1 L774.9,384.3 L778.9,376.7 L782.9,369.3 L786.9,362.0 L790.9,354.8 L794.9,347.8 L798.9,341.0 L802.8,334.4 L806.8,327.9 L810.8,321.7 L814.8,315.6 L818.8,309.7 L822.8,304.0 L826.8,298.5 L830.8,293.2 L834.8,288.1 L838.8,283.2 L842.8,278.6 L846.7,274.1 L850.7,269.9 L854.7,265.9 L858.7,262.1 L862.7,258.6 L866.7,255.2 L870.7,252.2 L874.7,249.3 L878.7,246.7 L882.7,244.3 L886.6,242.2 L890.6,240.3 L894.6,238.6 L898.6,237.2 L902.6,236.1 L906.6,235.2 L910.6,234.5 L914.6,234.1 L918.6,233.9 L922.6,234.0 L926.5,234.3 L930.5,234.9 L934.5,235.7 L938.5,236.8 L942.5,238.1 L946.5,239.7 L950.5,241.5 L954.5,243.5 L958.5,245.8 L962.5,248.4 L966.4,251.1 L970.4,254.1 L974.4,257.4 L978.4,260.8 L982.4,264.5 L986.4,268.5 L990.4,272.6 L994.4,277.0 L998.4,281.6 L1002.4,286.4 L1006.4,291.4 L1010.3,296.6 L1014.3,302.0 L1018.3,307.6 L1022.3,313.5 L1026.3,319.5 L1030.3,325.7 L1034.3,332.1 L1038.3,338.7 L1042.3,345.4 L1046.3,352.3 L1050.2,359.4 L1054.2,366.7 L1058.2,374.1 L1062.2,381.6 L1066.2,389.3 L1070.2,397.2 L1074.2,405.2 L1078.2,413.3 L1082.2,421.5 L1086.2,429.9 L1090.1,438.4 L1094.1,447.0 L1098.1,455.7 L1102.1,464.5 L1106.1,473.4 L1110.1,482.4 L1114.1,491.5 L1118.1,500.7 L1122.1,509.9 L1126.1,519.2 L1130.0,528.6 L1134.0,538.1 L1138.0,547.5 L1142.0,557.1 L1146.0,566.7 L1150.0,576.3 L1154.0,586.0 L1158.0,595.7 L1162.0,605.4 L1166.0,615.1 L1170.0,624.9 L1173.9,634.6 L1177.9,644.4 L1181.9,654.1 L1185.9,663.9 L1189.9,673.7 L1193.9,683.4 L1197.9,693.1 L1201.9,702.8 L1205.9,712.5 L1209.9,722.1 L1213.8,731.7 L1217.8,741.3 L1221.8,750.8 L1225.8,760.3 L1229.8,769.7 L1233.8,779.1 L1237.8,788.4 L1241.8,797.7 L1245.8,806.9 L1249.8,816.0 L1253.7,825.1 L1257.7,834.0 L1261.7,843.0 L1265.7,851.8 L1269.7,860.6 L1273.7,869.2 L1277.7,877.8 L1281.7,886.3 L1285.7,894.7 L1289.7,903.0 L1293.6,911.3 L1297.6,919.4 L1301.6,927.4 L1305.6,935.4 L1309.6,943.2 L1313.6,950.9 L1317.6,958.6 L1321.6,966.1 L1325.6,973.5 L1329.6,980.8 L1333.6,988.1 L1337.5,995.2 L1341.5,1002.2 L1345.5,1009.0 L1349.5,1015.8 L1353.5,1022.5 L1357.5,1029.0 L1361.5,1035.5 L1365.5,1041.8 L1369.5,1048.0 L1373.5,1054.1 L1377.4,1060.1 L1381.4,1066.0 L1385.4,1071.8 L1389.4,1077.5 L1393.4,1083.1 L1397.4,1088.5 L1401.4,1093.8 L1405.4,1099.1 L1409.4,1104.2 L1413.4,1109.2 L1417.3,1114.1 L1421.3,1119.0 L1425.3,1123.7 L1429.3,1128.3 L1433.3,1132.8 L1437.3,1137.2 L1441.3,1141.5 L1445.3,1145.7 L1449.3,1149.7 L1453.3,1153.7 L1457.3,1157.7 L1461.2,1161.5 L1465.2,1165.2 L1469.2,1168.8 L1473.2,1172.3 L1477.2,1175.8 L1481.2,1179.1 L1485.2,1182.4 L1489.2,1185.6 L1493.2,1188.7 L1497.2,1191.7 L1501.1,1194.6 L1505.1,1197.5 L1509.1,1200.2 L1513.1,1202.9 L1517.1,1205.6 L1521.1,1208.1 L1525.1,1210.6 L1529.1,1213.0 L1533.1,1215.3 L1537.1,1217.5 L1541.0,1219.7 L1545.0,1221.9 L1549.0,1223.9 L1553.0,1225.9 L1557.0,1227.9 L1561.0,1229.7 L1565.0,1231.6 L1569.0,1233.3 L1573.0,1235.0 L1577.0,1236.7 L1580.9,1238.3 L1584.9,1239.8 L1588.9,1241.3 L1592.9,1242.7 L1596.9,1244.1 L1600.9,1245.5 L1604.9,1246.8 L1608.9,1248.0 L1612.9,1249.2 L1616.9,1250.4 L1620.9,1251.5 L1624.8,1252.6 L1628.8,1253.7 L1632.8,1254.7 L1636.8,1255.6 L1640.8,1256.6 L1644.8,1257.5 L1648.8,1258.3 L1652.8,1259.2 L1656.8,1260.0 L1660.8,1260.8 L1664.7,1261.5 L1668.7,1262.2 L1672.7,1262.9 L1676.7,1263.6 L1680.7,1264.2 L1684.7,1264.8 L1688.7,1265.4 L1692.7,1266.0 L1696.7,1266.5 L1700.7,1267.1 L1704.6,1267.6 L1708.6,1268.0 L1712.6,1268.5 L1716.6,1268.9 L1720.6,1269.4 L1724.6,1269.8 L1728.6,1270.1 L1732.6,1270.5 L1736.6,1270.9 L1740.6,1271.2 L1744.5,1271.5 L1748.5,1271.8 L1752.5,1272.1 L1756.5,1272.4 L1760.5,1272.7 L1764.5,1273.0" stroke="#000000" stroke-width="8.0"/>
</g>
<g id="xlabels" class="tk" text-anchor="middle" filter="url(#ctx)">
<text x="208.3" y="1345">0.0</text>
<text x="375" y="1345">0.2</text>
<text x="541.7" y="1345">0.4</text>
<text x="708.4" y="1345">0.6</text>
<text x="875.1" y="1345">0.8</text>
<text x="1041.8" y="1345">1.0</text>
<text x="1208.5" y="1345">1.2</text>
<text x="1375.2" y="1345">1.4</text>
<text x="1541.9" y="1345">1.6</text>
<text x="1708.6" y="1345">1.8</text>
<text x="1875.3" y="1345">2.0</text>
</g>
<g id="ylabels" class="tk" text-anchor="end" filter="url(#cty)">
<text x="178.5" y="1292">0</text>
<text x="178.5" y="796">10</text>
<text x="178.5" y="300">20</text>
</g>
<g id="xtitle" filter="url(#ctm)"><text class="tt" x="1042" y="1431.5" text-anchor="middle">Measured</text></g>
<g id="ytitle" filter="url(#ctc)"><text class="tt" transform="translate(109.5 656) rotate(-90)" text-anchor="middle">Count</text></g>
<g id="legend">
<rect x="1486" y="46" width="354" height="5" fill="#000" fill-opacity="0.05"/>
<rect x="1840" y="55" width="4" height="266" fill="#000" fill-opacity="0.13"/>
<rect x="1490" y="317" width="354" height="4" fill="#000" fill-opacity="0.2"/>
<rect x="1486" y="51" width="354" height="266" fill="#ffffff"/>
<rect x="1486" y="51" width="354" height="4" fill="#959a9a"/>
<rect x="1486" y="313" width="354" height="4" fill="#b4adad"/>
<rect x="1486" y="51" width="4" height="266" fill="#777777"/>
<rect x="1836" y="51" width="4" height="266" fill="#999999"/>
<rect x="1490" y="55" width="4" height="258" fill="#e6e9e9"/>
<rect x="1494" y="55" width="121" height="4" fill="#e9e2e2"/>
<rect x="1494" y="251" width="121" height="4" fill="#a2d9d9"/>
<rect x="1494" y="59" width="121" height="58" fill="#ff0000"/>
<rect x="1494" y="59" width="121" height="4" fill="#980000"/>
<rect x="1498" y="109" width="113" height="4" fill="#dc0000"/>
<rect x="1494" y="113" width="121" height="4" fill="#a03838"/>
<rect x="1494" y="63" width="4" height="50" fill="#906060"/>
<rect x="1611" y="63" width="4" height="50" fill="#904040"/>
<rect x="1607" y="63" width="4" height="50" fill="#000" fill-opacity="0.12"/>
<rect x="1494" y="117" width="121" height="4" fill="#f1e9f8"/>
<rect x="1494" y="121" width="121" height="63" fill="#00ff00"/>
<rect x="1494" y="121" width="121" height="5" fill="#609860"/>
<rect x="1498" y="176" width="113" height="4" fill="#00d400"/>
<rect x="1494" y="180" width="121" height="4" fill="#60a860"/>
<rect x="1494" y="126" width="4" height="54" fill="#709070"/>
<rect x="1611" y="126" width="4" height="54" fill="#509050"/>
<rect x="1607" y="126" width="4" height="54" fill="#000" fill-opacity="0.12"/>
<rect x="1494" y="184" width="121" height="4" fill="#f1e9e1"/>
<rect x="1494" y="188" width="121" height="58" fill="#0000ff"/>
<rect x="1494" y="188" width="121" height="4" fill="#5050a0"/>
<rect x="1498" y="238" width="113" height="4" fill="#0000e0"/>
<rect x="1494" y="242" width="121" height="4" fill="#3030b0"/>
<rect x="1494" y="192" width="4" height="50" fill="#505090"/>
<rect x="1611" y="192" width="4" height="50" fill="#404090"/>
<rect x="1607" y="192" width="4" height="50" fill="#000" fill-opacity="0.12"/>
<rect x="1494" y="246" width="121" height="5" fill="#e2d2ba"/>
<rect x="1494" y="255" width="121" height="54" fill="#00ffff"/>
<rect x="1494" y="255" width="121" height="4" fill="#00c2c2"/>
<rect x="1498" y="301" width="113" height="4" fill="#00e4e4"/>
<rect x="1494" y="305" width="121" height="4" fill="#00b8b8"/>
<rect x="1494" y="259" width="4" height="46" fill="#80b4b4"/>
<rect x="1611" y="259" width="4" height="46" fill="#60a8a8"/>
<rect x="1607" y="259" width="4" height="46" fill="#000" fill-opacity="0.12"/>
<rect x="1494" y="309" width="121" height="4" fill="#b2e1e1"/>
<g id="legend-labels" filter="url(#ctl)">
<text class="lg" x="1624.5" y="103.2">Measured</text>
<text class="lg" x="1624.5" y="169.4">GEP</text>
<text class="lg" x="1624.5" y="232.5">SVM</text>
<text class="lg" x="1624.5" y="299.7">ANN</text>
</g>
</g>
</g>
</g>
</svg>
</body></html>
